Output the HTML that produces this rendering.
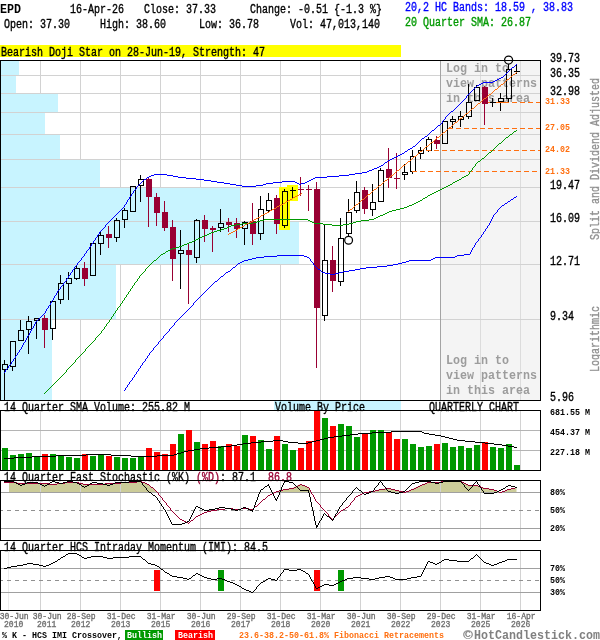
<!DOCTYPE html>
<html><head><meta charset="utf-8"><title>EPD Quarterly Chart</title>
<style>html,body{margin:0;padding:0;background:#fff}body{width:600px;height:640px;overflow:hidden;font-family:"Liberation Mono",monospace}</style></head>
<body>
<svg width="600" height="640" viewBox="0 0 600 640" font-family="'Liberation Mono', monospace" style="display:block;will-change:transform">
<rect width="600" height="640" fill="#fff"/>
<rect x="274" y="401" width="127" height="9" fill="#c8f4ff" shape-rendering="crispEdges"/>
<text x="4" y="411" font-size="12" fill="#000" stroke="#000" stroke-width="0.35" textLength="186" lengthAdjust="spacingAndGlyphs" >14 Quarter SMA Volume: 255.82 M</text>
<text x="275" y="411" font-size="12" fill="#000" stroke="#000" stroke-width="0.35" textLength="90" lengthAdjust="spacingAndGlyphs" >Volume By Price</text>
<text x="429" y="411" font-size="12" fill="#000" stroke="#000" stroke-width="0.35" textLength="90" lengthAdjust="spacingAndGlyphs" >QUARTERLY CHART</text>
<text x="4" y="481" font-size="12" fill="#000" stroke="#000" stroke-width="0.35" textLength="186" lengthAdjust="spacingAndGlyphs" >14 Quarter Fast Stochastic (%K)</text>
<text x="196" y="481" font-size="12" fill="#990033" stroke="#990033" stroke-width="0.35" textLength="24" lengthAdjust="spacingAndGlyphs" >(%D)</text>
<text x="220" y="481" font-size="12" fill="#000" stroke="#000" stroke-width="0.35" textLength="36" lengthAdjust="spacingAndGlyphs" >: 87.1</text>
<text x="268" y="481" font-size="12" fill="#990033" stroke="#990033" stroke-width="0.35" textLength="24" lengthAdjust="spacingAndGlyphs" >86.8</text>
<text x="4" y="551" font-size="12" fill="#000" stroke="#000" stroke-width="0.35" textLength="264" lengthAdjust="spacingAndGlyphs" >14 Quarter HCS Intraday Momentum (IMI): 84.5</text>
<g shape-rendering="crispEdges">
<rect x="0" y="45" width="401" height="12" fill="#ffff00"/>
<rect x="40" y="61" width="1" height="339" fill="#d2d2d2"/>
<rect x="80" y="61" width="1" height="339" fill="#d2d2d2"/>
<rect x="120" y="61" width="1" height="339" fill="#d2d2d2"/>
<rect x="160" y="61" width="1" height="339" fill="#d2d2d2"/>
<rect x="200" y="61" width="1" height="339" fill="#d2d2d2"/>
<rect x="240" y="61" width="1" height="339" fill="#d2d2d2"/>
<rect x="280" y="61" width="1" height="339" fill="#d2d2d2"/>
<rect x="320" y="61" width="1" height="339" fill="#d2d2d2"/>
<rect x="360" y="61" width="1" height="339" fill="#d2d2d2"/>
<rect x="400" y="61" width="1" height="339" fill="#d2d2d2"/>
<rect x="440" y="61" width="1" height="339" fill="#d2d2d2"/>
<rect x="480" y="61" width="1" height="339" fill="#d2d2d2"/>
<rect x="520" y="61" width="1" height="339" fill="#d2d2d2"/>
<rect x="1" y="61" width="18" height="15" fill="#c8f4ff"/>
<rect x="1" y="76" width="15" height="18" fill="#c8f4ff"/>
<rect x="1" y="94" width="57" height="19" fill="#c8f4ff"/>
<rect x="1" y="113" width="44" height="22" fill="#c8f4ff"/>
<rect x="1" y="135" width="59" height="25" fill="#c8f4ff"/>
<rect x="1" y="160" width="99" height="28" fill="#c8f4ff"/>
<rect x="1" y="188" width="239" height="34" fill="#c8f4ff"/>
<rect x="1" y="222" width="298" height="43" fill="#c8f4ff"/>
<rect x="1" y="265" width="115" height="55" fill="#c8f4ff"/>
<rect x="1" y="320" width="51" height="81" fill="#c8f4ff"/>
<rect x="441" y="61" width="99" height="339" fill="#f4f4f4"/>
<rect x="480" y="61" width="1" height="339" fill="#dcdcdc"/>
<rect x="520" y="61" width="1" height="339" fill="#dcdcdc"/>
<rect x="1" y="75" width="539" height="1" fill="#d2d2d2"/>
<rect x="1" y="93" width="539" height="1" fill="#d2d2d2"/>
<rect x="1" y="112" width="539" height="1" fill="#d2d2d2"/>
<rect x="1" y="134" width="539" height="1" fill="#d2d2d2"/>
<rect x="1" y="159" width="539" height="1" fill="#d2d2d2"/>
<rect x="1" y="187" width="539" height="1" fill="#d2d2d2"/>
<rect x="1" y="221" width="539" height="1" fill="#d2d2d2"/>
<rect x="1" y="264" width="539" height="1" fill="#d2d2d2"/>
<rect x="1" y="319" width="539" height="1" fill="#d2d2d2"/>
<rect x="440" y="61" width="1" height="339" fill="#a4a4a4"/>
</g>
<text x="446" y="71.5" font-size="12" fill="#9c9c9c" font-weight="bold" textLength="63" lengthAdjust="spacingAndGlyphs" >Log in to</text>
<text x="446" y="86.5" font-size="12" fill="#9c9c9c" font-weight="bold" textLength="91" lengthAdjust="spacingAndGlyphs" >view patterns</text>
<text x="446" y="101.5" font-size="12" fill="#9c9c9c" font-weight="bold" textLength="84" lengthAdjust="spacingAndGlyphs" >in this area</text>
<text x="446" y="363.5" font-size="12" fill="#9c9c9c" font-weight="bold" textLength="63" lengthAdjust="spacingAndGlyphs" >Log in to</text>
<text x="446" y="378.5" font-size="12" fill="#9c9c9c" font-weight="bold" textLength="91" lengthAdjust="spacingAndGlyphs" >view patterns</text>
<text x="446" y="393.5" font-size="12" fill="#9c9c9c" font-weight="bold" textLength="84" lengthAdjust="spacingAndGlyphs" >in this area</text>
<g shape-rendering="crispEdges">
<rect x="279" y="187" width="11" height="43" fill="#ffff00"/>
<rect x="287" y="185" width="11" height="16" fill="#ffff00"/>
</g>
<g shape-rendering="crispEdges">
<rect x="4" y="360" width="1" height="4" fill="#000"/>
<rect x="4" y="370" width="1" height="30" fill="#000"/>
<rect x="2" y="364" width="6" height="1" fill="#000"/>
<rect x="2" y="369" width="6" height="1" fill="#000"/>
<rect x="2" y="364" width="1" height="6" fill="#000"/>
<rect x="7" y="364" width="1" height="6" fill="#000"/>
<rect x="12" y="367" width="1" height="4" fill="#000"/>
<rect x="10" y="341" width="6" height="1" fill="#000"/>
<rect x="10" y="366" width="6" height="1" fill="#000"/>
<rect x="10" y="341" width="1" height="26" fill="#000"/>
<rect x="15" y="341" width="1" height="26" fill="#000"/>
<rect x="20" y="320" width="1" height="10" fill="#000"/>
<rect x="18" y="330" width="6" height="1" fill="#000"/>
<rect x="18" y="340" width="6" height="1" fill="#000"/>
<rect x="18" y="330" width="1" height="11" fill="#000"/>
<rect x="23" y="330" width="1" height="11" fill="#000"/>
<rect x="28" y="316" width="1" height="5" fill="#000"/>
<rect x="28" y="330" width="1" height="24" fill="#000"/>
<rect x="26" y="321" width="6" height="1" fill="#000"/>
<rect x="26" y="329" width="6" height="1" fill="#000"/>
<rect x="26" y="321" width="1" height="9" fill="#000"/>
<rect x="31" y="321" width="1" height="9" fill="#000"/>
<rect x="36" y="321" width="1" height="18" fill="#000"/>
<rect x="34" y="318" width="6" height="1" fill="#000"/>
<rect x="34" y="320" width="6" height="1" fill="#000"/>
<rect x="34" y="318" width="1" height="3" fill="#000"/>
<rect x="39" y="318" width="1" height="3" fill="#000"/>
<rect x="44" y="315" width="1" height="33" fill="#990033"/>
<rect x="42" y="318" width="6" height="12" fill="#990033"/>
<rect x="52" y="329" width="1" height="11" fill="#000"/>
<rect x="50" y="301" width="6" height="1" fill="#000"/>
<rect x="50" y="328" width="6" height="1" fill="#000"/>
<rect x="50" y="301" width="1" height="28" fill="#000"/>
<rect x="55" y="301" width="1" height="28" fill="#000"/>
<rect x="60" y="275" width="1" height="8" fill="#000"/>
<rect x="60" y="300" width="1" height="4" fill="#000"/>
<rect x="58" y="283" width="6" height="1" fill="#000"/>
<rect x="58" y="299" width="6" height="1" fill="#000"/>
<rect x="58" y="283" width="1" height="17" fill="#000"/>
<rect x="63" y="283" width="1" height="17" fill="#000"/>
<rect x="68" y="272" width="1" height="6" fill="#000"/>
<rect x="68" y="284" width="1" height="16" fill="#000"/>
<rect x="66" y="278" width="6" height="1" fill="#000"/>
<rect x="66" y="283" width="6" height="1" fill="#000"/>
<rect x="66" y="278" width="1" height="6" fill="#000"/>
<rect x="71" y="278" width="1" height="6" fill="#000"/>
<rect x="76" y="265" width="1" height="3" fill="#000"/>
<rect x="76" y="279" width="1" height="1" fill="#000"/>
<rect x="74" y="268" width="6" height="1" fill="#000"/>
<rect x="74" y="278" width="6" height="1" fill="#000"/>
<rect x="74" y="268" width="1" height="11" fill="#000"/>
<rect x="79" y="268" width="1" height="11" fill="#000"/>
<rect x="84" y="262" width="1" height="24" fill="#990033"/>
<rect x="82" y="268" width="6" height="11" fill="#990033"/>
<rect x="90" y="243" width="6" height="1" fill="#000"/>
<rect x="90" y="275" width="6" height="1" fill="#000"/>
<rect x="90" y="243" width="1" height="33" fill="#000"/>
<rect x="95" y="243" width="1" height="33" fill="#000"/>
<rect x="100" y="232" width="1" height="3" fill="#000"/>
<rect x="100" y="244" width="1" height="11" fill="#000"/>
<rect x="98" y="235" width="6" height="1" fill="#000"/>
<rect x="98" y="243" width="6" height="1" fill="#000"/>
<rect x="98" y="235" width="1" height="9" fill="#000"/>
<rect x="103" y="235" width="1" height="9" fill="#000"/>
<rect x="108" y="226" width="1" height="22" fill="#990033"/>
<rect x="106" y="234" width="6" height="4" fill="#990033"/>
<rect x="116" y="218" width="1" height="2" fill="#000"/>
<rect x="116" y="238" width="1" height="4" fill="#000"/>
<rect x="114" y="220" width="6" height="1" fill="#000"/>
<rect x="114" y="237" width="6" height="1" fill="#000"/>
<rect x="114" y="220" width="1" height="18" fill="#000"/>
<rect x="119" y="220" width="1" height="18" fill="#000"/>
<rect x="124" y="208" width="1" height="2" fill="#000"/>
<rect x="124" y="220" width="1" height="8" fill="#000"/>
<rect x="122" y="210" width="6" height="1" fill="#000"/>
<rect x="122" y="219" width="6" height="1" fill="#000"/>
<rect x="122" y="210" width="1" height="10" fill="#000"/>
<rect x="127" y="210" width="1" height="10" fill="#000"/>
<rect x="130" y="186" width="6" height="1" fill="#000"/>
<rect x="130" y="211" width="6" height="1" fill="#000"/>
<rect x="130" y="186" width="1" height="26" fill="#000"/>
<rect x="135" y="186" width="1" height="26" fill="#000"/>
<rect x="140" y="175" width="1" height="4" fill="#000"/>
<rect x="140" y="186" width="1" height="16" fill="#000"/>
<rect x="138" y="179" width="6" height="1" fill="#000"/>
<rect x="138" y="185" width="6" height="1" fill="#000"/>
<rect x="138" y="179" width="1" height="7" fill="#000"/>
<rect x="143" y="179" width="1" height="7" fill="#000"/>
<rect x="148" y="177" width="1" height="50" fill="#990033"/>
<rect x="146" y="179" width="6" height="18" fill="#990033"/>
<rect x="156" y="193" width="1" height="33" fill="#990033"/>
<rect x="154" y="197" width="6" height="16" fill="#990033"/>
<rect x="164" y="201" width="1" height="30" fill="#990033"/>
<rect x="162" y="212" width="6" height="16" fill="#990033"/>
<rect x="172" y="220" width="1" height="61" fill="#990033"/>
<rect x="170" y="227" width="6" height="32" fill="#990033"/>
<rect x="180" y="230" width="1" height="20" fill="#000"/>
<rect x="180" y="254" width="1" height="35" fill="#000"/>
<rect x="178" y="250" width="6" height="1" fill="#000"/>
<rect x="178" y="253" width="6" height="1" fill="#000"/>
<rect x="178" y="250" width="1" height="4" fill="#000"/>
<rect x="183" y="250" width="1" height="4" fill="#000"/>
<rect x="188" y="244" width="1" height="60" fill="#990033"/>
<rect x="186" y="250" width="6" height="5" fill="#990033"/>
<rect x="196" y="219" width="1" height="1" fill="#000"/>
<rect x="196" y="258" width="1" height="5" fill="#000"/>
<rect x="194" y="220" width="6" height="1" fill="#000"/>
<rect x="194" y="257" width="6" height="1" fill="#000"/>
<rect x="194" y="220" width="1" height="38" fill="#000"/>
<rect x="199" y="220" width="1" height="38" fill="#000"/>
<rect x="204" y="215" width="1" height="27" fill="#990033"/>
<rect x="202" y="220" width="6" height="9" fill="#990033"/>
<rect x="212" y="226" width="1" height="26" fill="#990033"/>
<rect x="210" y="228" width="6" height="2" fill="#990033"/>
<rect x="220" y="209" width="1" height="14" fill="#000"/>
<rect x="220" y="228" width="1" height="4" fill="#000"/>
<rect x="218" y="223" width="6" height="1" fill="#000"/>
<rect x="218" y="227" width="6" height="1" fill="#000"/>
<rect x="218" y="223" width="1" height="5" fill="#000"/>
<rect x="223" y="223" width="1" height="5" fill="#000"/>
<rect x="228" y="218" width="1" height="14" fill="#990033"/>
<rect x="226" y="222" width="6" height="3" fill="#990033"/>
<rect x="236" y="218" width="1" height="20" fill="#990033"/>
<rect x="234" y="223" width="6" height="6" fill="#990033"/>
<rect x="244" y="221" width="1" height="1" fill="#000"/>
<rect x="244" y="229" width="1" height="16" fill="#000"/>
<rect x="242" y="222" width="6" height="1" fill="#000"/>
<rect x="242" y="228" width="6" height="1" fill="#000"/>
<rect x="242" y="222" width="1" height="7" fill="#000"/>
<rect x="247" y="222" width="1" height="7" fill="#000"/>
<rect x="252" y="203" width="1" height="42" fill="#990033"/>
<rect x="250" y="221" width="6" height="13" fill="#990033"/>
<rect x="260" y="196" width="1" height="13" fill="#000"/>
<rect x="260" y="234" width="1" height="6" fill="#000"/>
<rect x="258" y="209" width="6" height="1" fill="#000"/>
<rect x="258" y="233" width="6" height="1" fill="#000"/>
<rect x="258" y="209" width="1" height="25" fill="#000"/>
<rect x="263" y="209" width="1" height="25" fill="#000"/>
<rect x="268" y="193" width="1" height="7" fill="#000"/>
<rect x="268" y="211" width="1" height="2" fill="#000"/>
<rect x="266" y="200" width="6" height="1" fill="#000"/>
<rect x="266" y="210" width="6" height="1" fill="#000"/>
<rect x="266" y="200" width="1" height="11" fill="#000"/>
<rect x="271" y="200" width="1" height="11" fill="#000"/>
<rect x="276" y="195" width="1" height="39" fill="#990033"/>
<rect x="274" y="198" width="6" height="26" fill="#990033"/>
<rect x="284" y="189" width="1" height="2" fill="#000"/>
<rect x="284" y="226" width="1" height="2" fill="#000"/>
<rect x="282" y="191" width="6" height="1" fill="#000"/>
<rect x="282" y="225" width="6" height="1" fill="#000"/>
<rect x="282" y="191" width="1" height="35" fill="#000"/>
<rect x="287" y="191" width="1" height="35" fill="#000"/>
<rect x="292" y="187" width="1" height="12" fill="#000"/>
<rect x="290" y="190" width="6" height="1" fill="#000"/>
<rect x="300" y="177" width="1" height="19" fill="#990033"/>
<rect x="298" y="189" width="6" height="1" fill="#990033"/>
<rect x="308" y="185" width="1" height="26" fill="#990033"/>
<rect x="306" y="189" width="6" height="1" fill="#990033"/>
<rect x="316" y="182" width="1" height="186" fill="#990033"/>
<rect x="314" y="189" width="6" height="119" fill="#990033"/>
<rect x="324" y="224" width="1" height="36" fill="#000"/>
<rect x="324" y="316" width="1" height="5" fill="#000"/>
<rect x="322" y="260" width="6" height="1" fill="#000"/>
<rect x="322" y="315" width="6" height="1" fill="#000"/>
<rect x="322" y="260" width="1" height="56" fill="#000"/>
<rect x="327" y="260" width="1" height="56" fill="#000"/>
<rect x="332" y="246" width="1" height="46" fill="#990033"/>
<rect x="330" y="260" width="6" height="21" fill="#990033"/>
<rect x="340" y="218" width="1" height="20" fill="#000"/>
<rect x="340" y="282" width="1" height="4" fill="#000"/>
<rect x="338" y="238" width="6" height="1" fill="#000"/>
<rect x="338" y="281" width="6" height="1" fill="#000"/>
<rect x="338" y="238" width="1" height="44" fill="#000"/>
<rect x="343" y="238" width="1" height="44" fill="#000"/>
<rect x="348" y="199" width="1" height="13" fill="#000"/>
<rect x="348" y="234" width="1" height="2" fill="#000"/>
<rect x="346" y="212" width="6" height="1" fill="#000"/>
<rect x="346" y="233" width="6" height="1" fill="#000"/>
<rect x="346" y="212" width="1" height="22" fill="#000"/>
<rect x="351" y="212" width="1" height="22" fill="#000"/>
<rect x="356" y="181" width="1" height="11" fill="#000"/>
<rect x="356" y="211" width="1" height="2" fill="#000"/>
<rect x="354" y="192" width="6" height="1" fill="#000"/>
<rect x="354" y="210" width="6" height="1" fill="#000"/>
<rect x="354" y="192" width="1" height="19" fill="#000"/>
<rect x="359" y="192" width="1" height="19" fill="#000"/>
<rect x="364" y="187" width="1" height="27" fill="#990033"/>
<rect x="362" y="190" width="6" height="19" fill="#990033"/>
<rect x="372" y="184" width="1" height="18" fill="#000"/>
<rect x="372" y="210" width="1" height="6" fill="#000"/>
<rect x="370" y="202" width="6" height="1" fill="#000"/>
<rect x="370" y="209" width="6" height="1" fill="#000"/>
<rect x="370" y="202" width="1" height="8" fill="#000"/>
<rect x="375" y="202" width="1" height="8" fill="#000"/>
<rect x="380" y="168" width="1" height="2" fill="#000"/>
<rect x="378" y="170" width="6" height="1" fill="#000"/>
<rect x="378" y="201" width="6" height="1" fill="#000"/>
<rect x="378" y="170" width="1" height="32" fill="#000"/>
<rect x="383" y="170" width="1" height="32" fill="#000"/>
<rect x="388" y="148" width="1" height="40" fill="#990033"/>
<rect x="386" y="169" width="6" height="9" fill="#990033"/>
<rect x="396" y="153" width="1" height="36" fill="#990033"/>
<rect x="394" y="178" width="6" height="1" fill="#990033"/>
<rect x="404" y="164" width="1" height="8" fill="#000"/>
<rect x="404" y="175" width="1" height="5" fill="#000"/>
<rect x="402" y="172" width="6" height="1" fill="#000"/>
<rect x="402" y="174" width="6" height="1" fill="#000"/>
<rect x="402" y="172" width="1" height="3" fill="#000"/>
<rect x="407" y="172" width="1" height="3" fill="#000"/>
<rect x="412" y="150" width="1" height="6" fill="#000"/>
<rect x="412" y="172" width="1" height="2" fill="#000"/>
<rect x="410" y="156" width="6" height="1" fill="#000"/>
<rect x="410" y="171" width="6" height="1" fill="#000"/>
<rect x="410" y="156" width="1" height="16" fill="#000"/>
<rect x="415" y="156" width="1" height="16" fill="#000"/>
<rect x="420" y="147" width="1" height="3" fill="#000"/>
<rect x="420" y="154" width="1" height="5" fill="#000"/>
<rect x="418" y="150" width="6" height="1" fill="#000"/>
<rect x="418" y="153" width="6" height="1" fill="#000"/>
<rect x="418" y="150" width="1" height="4" fill="#000"/>
<rect x="423" y="150" width="1" height="4" fill="#000"/>
<rect x="428" y="137" width="1" height="2" fill="#000"/>
<rect x="428" y="151" width="1" height="1" fill="#000"/>
<rect x="426" y="139" width="6" height="1" fill="#000"/>
<rect x="426" y="150" width="6" height="1" fill="#000"/>
<rect x="426" y="139" width="1" height="12" fill="#000"/>
<rect x="431" y="139" width="1" height="12" fill="#000"/>
<rect x="436" y="136" width="1" height="13" fill="#990033"/>
<rect x="434" y="140" width="6" height="4" fill="#990033"/>
<rect x="442" y="121" width="6" height="1" fill="#000"/>
<rect x="442" y="143" width="6" height="1" fill="#000"/>
<rect x="442" y="121" width="1" height="23" fill="#000"/>
<rect x="447" y="121" width="1" height="23" fill="#000"/>
<rect x="452" y="116" width="1" height="3" fill="#000"/>
<rect x="452" y="122" width="1" height="6" fill="#000"/>
<rect x="450" y="119" width="6" height="1" fill="#000"/>
<rect x="450" y="121" width="6" height="1" fill="#000"/>
<rect x="450" y="119" width="1" height="3" fill="#000"/>
<rect x="455" y="119" width="1" height="3" fill="#000"/>
<rect x="460" y="111" width="1" height="5" fill="#000"/>
<rect x="460" y="120" width="1" height="7" fill="#000"/>
<rect x="458" y="116" width="6" height="1" fill="#000"/>
<rect x="458" y="119" width="6" height="1" fill="#000"/>
<rect x="458" y="116" width="1" height="4" fill="#000"/>
<rect x="463" y="116" width="1" height="4" fill="#000"/>
<rect x="468" y="84" width="1" height="18" fill="#000"/>
<rect x="468" y="117" width="1" height="2" fill="#000"/>
<rect x="466" y="102" width="6" height="1" fill="#000"/>
<rect x="466" y="116" width="6" height="1" fill="#000"/>
<rect x="466" y="102" width="1" height="15" fill="#000"/>
<rect x="471" y="102" width="1" height="15" fill="#000"/>
<rect x="476" y="85" width="1" height="2" fill="#000"/>
<rect x="474" y="87" width="6" height="1" fill="#000"/>
<rect x="474" y="100" width="6" height="1" fill="#000"/>
<rect x="474" y="87" width="1" height="14" fill="#000"/>
<rect x="479" y="87" width="1" height="14" fill="#000"/>
<rect x="484" y="86" width="1" height="39" fill="#990033"/>
<rect x="482" y="87" width="6" height="17" fill="#990033"/>
<rect x="492" y="98" width="1" height="9" fill="#000"/>
<rect x="490" y="102" width="6" height="1" fill="#000"/>
<rect x="500" y="93" width="1" height="5" fill="#000"/>
<rect x="500" y="102" width="1" height="9" fill="#000"/>
<rect x="498" y="98" width="6" height="1" fill="#000"/>
<rect x="498" y="101" width="6" height="1" fill="#000"/>
<rect x="498" y="98" width="1" height="4" fill="#000"/>
<rect x="503" y="98" width="1" height="4" fill="#000"/>
<rect x="508" y="64" width="1" height="5" fill="#000"/>
<rect x="508" y="99" width="1" height="3" fill="#000"/>
<rect x="506" y="69" width="6" height="1" fill="#000"/>
<rect x="506" y="98" width="6" height="1" fill="#000"/>
<rect x="506" y="69" width="1" height="30" fill="#000"/>
<rect x="511" y="69" width="1" height="30" fill="#000"/>
<rect x="516" y="64" width="1" height="10" fill="#000"/>
<rect x="514" y="71" width="6" height="1" fill="#000"/>
</g>
<g shape-rendering="crispEdges">
<rect x="488" y="102" width="5" height="1" fill="#ff6f10"/>
<rect x="496" y="102" width="5" height="1" fill="#ff6f10"/>
<rect x="504" y="102" width="5" height="1" fill="#ff6f10"/>
<rect x="512" y="102" width="5" height="1" fill="#ff6f10"/>
<rect x="520" y="102" width="5" height="1" fill="#ff6f10"/>
<rect x="528" y="102" width="5" height="1" fill="#ff6f10"/>
<rect x="536" y="102" width="4" height="1" fill="#ff6f10"/>
<rect x="448" y="128" width="5" height="1" fill="#ff6f10"/>
<rect x="456" y="128" width="5" height="1" fill="#ff6f10"/>
<rect x="464" y="128" width="5" height="1" fill="#ff6f10"/>
<rect x="472" y="128" width="5" height="1" fill="#ff6f10"/>
<rect x="480" y="128" width="5" height="1" fill="#ff6f10"/>
<rect x="488" y="128" width="5" height="1" fill="#ff6f10"/>
<rect x="496" y="128" width="5" height="1" fill="#ff6f10"/>
<rect x="504" y="128" width="5" height="1" fill="#ff6f10"/>
<rect x="512" y="128" width="5" height="1" fill="#ff6f10"/>
<rect x="520" y="128" width="5" height="1" fill="#ff6f10"/>
<rect x="528" y="128" width="5" height="1" fill="#ff6f10"/>
<rect x="536" y="128" width="4" height="1" fill="#ff6f10"/>
<rect x="426" y="150" width="5" height="1" fill="#ff6f10"/>
<rect x="434" y="150" width="5" height="1" fill="#ff6f10"/>
<rect x="442" y="150" width="5" height="1" fill="#ff6f10"/>
<rect x="450" y="150" width="5" height="1" fill="#ff6f10"/>
<rect x="458" y="150" width="5" height="1" fill="#ff6f10"/>
<rect x="466" y="150" width="5" height="1" fill="#ff6f10"/>
<rect x="474" y="150" width="5" height="1" fill="#ff6f10"/>
<rect x="482" y="150" width="5" height="1" fill="#ff6f10"/>
<rect x="490" y="150" width="5" height="1" fill="#ff6f10"/>
<rect x="498" y="150" width="5" height="1" fill="#ff6f10"/>
<rect x="506" y="150" width="5" height="1" fill="#ff6f10"/>
<rect x="514" y="150" width="5" height="1" fill="#ff6f10"/>
<rect x="522" y="150" width="5" height="1" fill="#ff6f10"/>
<rect x="530" y="150" width="5" height="1" fill="#ff6f10"/>
<rect x="538" y="150" width="2" height="1" fill="#ff6f10"/>
<rect x="412" y="171" width="5" height="1" fill="#ff6f10"/>
<rect x="420" y="171" width="5" height="1" fill="#ff6f10"/>
<rect x="428" y="171" width="5" height="1" fill="#ff6f10"/>
<rect x="436" y="171" width="5" height="1" fill="#ff6f10"/>
<rect x="444" y="171" width="5" height="1" fill="#ff6f10"/>
<rect x="452" y="171" width="5" height="1" fill="#ff6f10"/>
<rect x="460" y="171" width="5" height="1" fill="#ff6f10"/>
<rect x="468" y="171" width="5" height="1" fill="#ff6f10"/>
<rect x="476" y="171" width="5" height="1" fill="#ff6f10"/>
<rect x="484" y="171" width="5" height="1" fill="#ff6f10"/>
<rect x="492" y="171" width="5" height="1" fill="#ff6f10"/>
<rect x="500" y="171" width="5" height="1" fill="#ff6f10"/>
<rect x="508" y="171" width="5" height="1" fill="#ff6f10"/>
<rect x="516" y="171" width="5" height="1" fill="#ff6f10"/>
<rect x="524" y="171" width="5" height="1" fill="#ff6f10"/>
<rect x="532" y="171" width="5" height="1" fill="#ff6f10"/>
<rect x="488" y="102" width="21" height="1" fill="#ff6f10"/>
<rect x="490" y="102" width="6" height="1" fill="#000"/>
</g>
<path d="M66.5 370v2M75.5 360v2M85.5 349v2M95.5 338v2M101.5 331v2M104.5 327v2M106.5 324v2M109.5 320v2M111.5 317v2M113.5 314v2M115.5 311v2M117.5 308v2M120.5 304v2M122.5 301v2M124.5 298v2M126.5 295v2M128.5 292v2M130.5 289v2M132.5 286v2M134.5 283v2M137.5 279v2M139.5 276v2M145.5 269v2M469.5 172v2M472.5 168v2M475.5 164v2M516 130.5h1M514 131.5h2M513 132.5h1M512 133.5h1M510 134.5h2M509 135.5h1M508 136.5h1M506 137.5h2M505 138.5h1M504 139.5h1M503 140.5h1M502 141.5h1M501 142.5h1M499 143.5h2M498 144.5h1M497 145.5h1M496 146.5h1M495 147.5h1M494 148.5h1M493 149.5h1M492 150.5h1M491 151.5h1M489 152.5h2M488 153.5h1M487 154.5h1M486 155.5h1M485 156.5h1M484 157.5h1M482 158.5h2M481 159.5h1M480 160.5h1M478 161.5h2M477 162.5h1M476 163.5h1M474 166.5h1M473 167.5h1M471 170.5h1M470 171.5h1M468 174.5h1M466 175.5h2M464 176.5h2M462 177.5h2M461 178.5h1M459 179.5h2M457 180.5h2M455 181.5h2M453 182.5h2M452 183.5h1M450 184.5h2M448 185.5h2M446 186.5h2M444 187.5h2M442 188.5h2M440 189.5h2M438 190.5h2M436 191.5h2M434 192.5h2M432 193.5h2M430 194.5h2M428 195.5h2M427 196.5h1M425 197.5h2M423 198.5h2M422 199.5h1M420 200.5h2M418 201.5h2M416 202.5h2M414 203.5h2M412 204.5h2M409 205.5h3M407 206.5h2M404 207.5h3M400 208.5h4M396 209.5h4M392 210.5h4M389 211.5h3M387 212.5h2M385 213.5h2M383 214.5h2M380 215.5h3M378 216.5h2M376 217.5h2M374 218.5h2M264 219.5h44M369 219.5h5M260 220.5h4M308 220.5h2M361 220.5h8M257 221.5h3M310 221.5h2M356 221.5h5M253 222.5h4M312 222.5h2M353 222.5h3M242 223.5h11M314 223.5h9M349 223.5h4M236 224.5h6M323 224.5h9M343 224.5h6M231 225.5h5M332 225.5h11M229 226.5h2M227 227.5h2M224 228.5h3M221 229.5h3M217 230.5h4M214 231.5h3M211 232.5h3M209 233.5h2M207 234.5h2M204 235.5h3M202 236.5h2M200 237.5h2M198 238.5h2M196 239.5h2M194 240.5h2M192 241.5h2M189 242.5h3M187 243.5h2M184 244.5h3M182 245.5h2M179 246.5h3M176 247.5h3M172 248.5h4M170 249.5h2M168 250.5h2M166 251.5h2M165 252.5h1M163 253.5h2M161 254.5h2M160 255.5h1M159 256.5h1M158 257.5h1M157 258.5h1M156 259.5h1M154 260.5h2M153 261.5h1M152 262.5h1M151 263.5h1M150 264.5h1M149 265.5h1M148 266.5h1M147 267.5h1M146 268.5h1M144 271.5h1M143 272.5h1M142 273.5h1M141 274.5h1M140 275.5h1M138 278.5h1M136 281.5h1M135 282.5h1M133 285.5h1M131 288.5h1M129 291.5h1M127 294.5h1M125 297.5h1M123 300.5h1M121 303.5h1M119 306.5h1M118 307.5h1M116 310.5h1M114 313.5h1M112 316.5h1M110 319.5h1M108 322.5h1M107 323.5h1M105 326.5h1M103 329.5h1M102 330.5h1M100 333.5h1M99 334.5h1M98 335.5h1M97 336.5h1M96 337.5h1M94 340.5h1M93 341.5h1M92 342.5h1M91 343.5h1M90 344.5h1M89 345.5h1M88 346.5h1M87 347.5h1M86 348.5h1M84 351.5h1M83 352.5h1M82 353.5h1M81 354.5h1M80 355.5h1M79 356.5h1M78 357.5h1M77 358.5h1M76 359.5h1M74 362.5h1M73 363.5h1M72 364.5h1M71 365.5h1M70 366.5h1M69 367.5h1M68 368.5h1M67 369.5h1M65 372.5h1M64 373.5h1M63 374.5h1M62 375.5h1M61 376.5h1M60 377.5h1M59 378.5h1M58 379.5h1M57 380.5h1M56 381.5h1M55 382.5h1M54 383.5h1M53 384.5h1M52 385.5h1M51 386.5h1M50 387.5h1M49 388.5h1M48 389.5h1M47 390.5h1M46 391.5h1M45 392.5h1M44 393.5h1" fill="none" stroke="#009900" stroke-width="1" shape-rendering="crispEdges"/>
<path d="M125.5 388v2M127.5 385v2M129.5 382v2M132.5 378v2M134.5 375v2M136.5 372v2M138.5 369v2M140.5 366v2M142.5 363v2M145.5 359v2M147.5 356v2M149.5 353v2M153.5 348v2M158.5 342v2M163.5 336v2M169.5 329v2M174.5 323v2M193.5 303v2M310.5 259v2M313.5 263v2M470.5 252v2M471.5 250v2M472.5 248v2M474.5 245v2M475.5 243v2M478.5 239v2M481.5 235v2M483.5 232v2M485.5 229v2M487.5 226v2M489.5 223v2M490.5 221v2M491.5 219v2M492.5 217v2M493.5 215v2M497.5 210v2M516 196.5h1M514 197.5h2M513 198.5h1M511 199.5h2M510 200.5h1M508 201.5h2M507 202.5h1M505 203.5h2M504 204.5h1M502 205.5h2M501 206.5h1M500 207.5h1M499 208.5h1M498 209.5h1M496 212.5h1M495 213.5h1M494 214.5h1M488 225.5h1M486 228.5h1M484 231.5h1M482 234.5h1M480 237.5h1M479 238.5h1M477 241.5h1M476 242.5h1M473 247.5h1M464 254.5h6M277 255.5h27M457 255.5h7M264 256.5h13M304 256.5h3M455 256.5h2M256 257.5h8M307 257.5h2M435 257.5h20M252 258.5h4M309 258.5h1M433 258.5h2M248 259.5h4M431 259.5h2M244 260.5h4M409 260.5h22M242 261.5h2M311 261.5h1M406 261.5h3M240 262.5h2M312 262.5h1M402 262.5h4M238 263.5h2M398 263.5h4M237 264.5h1M393 264.5h5M236 265.5h1M314 265.5h1M387 265.5h6M235 266.5h1M315 266.5h1M377 266.5h10M233 267.5h2M316 267.5h1M366 267.5h11M232 268.5h1M317 268.5h1M360 268.5h6M231 269.5h1M318 269.5h2M355 269.5h5M230 270.5h1M320 270.5h1M349 270.5h6M228 271.5h2M321 271.5h1M343 271.5h6M226 272.5h2M322 272.5h3M339 272.5h4M225 273.5h1M325 273.5h5M335 273.5h4M224 274.5h1M330 274.5h5M223 275.5h1M221 276.5h2M220 277.5h1M219 278.5h1M218 279.5h1M217 280.5h1M215 281.5h2M214 282.5h1M213 283.5h1M212 284.5h1M211 285.5h1M210 286.5h1M209 287.5h1M208 288.5h1M207 289.5h1M206 290.5h1M205 291.5h1M204 292.5h1M203 293.5h1M202 294.5h1M201 295.5h1M200 296.5h1M199 297.5h1M198 298.5h1M197 299.5h1M196 300.5h1M195 301.5h1M194 302.5h1M192 305.5h1M191 306.5h1M190 307.5h1M189 308.5h1M188 309.5h1M187 310.5h1M186 311.5h1M185 312.5h1M184 313.5h1M183 314.5h1M182 315.5h1M181 316.5h1M180 317.5h1M179 318.5h1M178 319.5h1M177 320.5h1M176 321.5h1M175 322.5h1M173 325.5h1M172 326.5h1M171 327.5h1M170 328.5h1M168 331.5h1M167 332.5h1M166 333.5h1M165 334.5h1M164 335.5h1M162 338.5h1M161 339.5h1M160 340.5h1M159 341.5h1M157 344.5h1M156 345.5h1M155 346.5h1M154 347.5h1M152 350.5h1M151 351.5h1M150 352.5h1M148 355.5h1M146 358.5h1M144 361.5h1M143 362.5h1M141 365.5h1M139 368.5h1M137 371.5h1M135 374.5h1M133 377.5h1M131 380.5h1M130 381.5h1M128 384.5h1M126 387.5h1M124 390.5h1" fill="none" stroke="#0000ff" stroke-width="1" shape-rendering="crispEdges"/>
<path d="M5.5 370v2M8.5 366v2M11.5 362v2M13.5 359v2M15.5 356v2M17.5 353v2M19.5 350v2M21.5 347v2M22.5 345v2M23.5 343v2M25.5 340v2M26.5 338v2M27.5 336v2M29.5 333v2M30.5 331v2M31.5 329v2M33.5 326v2M34.5 324v2M35.5 322v2M45.5 311v2M46.5 309v2M48.5 306v2M50.5 303v2M51.5 301v2M53.5 298v2M54.5 296v2M56.5 293v2M57.5 291v2M60.5 287v2M63.5 283v2M66.5 279v2M68.5 276v2M70.5 273v2M72.5 270v2M74.5 267v2M77.5 263v2M81.5 258v2M84.5 254v2M86.5 251v2M89.5 247v2M91.5 244v2M93.5 241v2M95.5 238v2M97.5 235v2M99.5 232v2M105.5 225v2M124.5 205v2M126.5 202v2M127.5 200v2M129.5 197v2M131.5 194v2M133.5 191v2M136.5 187v2M442.5 121v2M445.5 117v2M466.5 96v2M516 64.5h1M515 65.5h1M514 66.5h1M512 67.5h2M511 68.5h1M510 69.5h1M509 70.5h1M508 71.5h1M507 72.5h1M506 73.5h1M505 74.5h1M504 75.5h1M503 76.5h1M501 77.5h2M499 78.5h2M497 79.5h2M495 80.5h2M493 81.5h2M483 82.5h10M481 83.5h2M479 84.5h2M477 85.5h2M476 86.5h1M475 87.5h1M474 88.5h1M473 89.5h1M472 90.5h1M471 91.5h1M470 92.5h1M469 93.5h1M468 94.5h1M467 95.5h1M465 98.5h1M464 99.5h1M463 100.5h1M462 101.5h1M461 102.5h1M460 103.5h1M459 104.5h1M458 105.5h1M457 106.5h1M456 107.5h1M455 108.5h1M454 109.5h1M453 110.5h1M451 111.5h2M450 112.5h1M449 113.5h1M448 114.5h1M447 115.5h1M446 116.5h1M444 119.5h1M443 120.5h1M441 123.5h1M440 124.5h1M438 125.5h2M437 126.5h1M436 127.5h1M435 128.5h1M434 129.5h1M432 130.5h2M431 131.5h1M430 132.5h1M429 133.5h1M428 134.5h1M427 135.5h1M425 136.5h2M424 137.5h1M422 138.5h2M421 139.5h1M420 140.5h1M419 141.5h1M418 142.5h1M417 143.5h1M416 144.5h1M415 145.5h1M413 146.5h2M412 147.5h1M410 148.5h2M408 149.5h2M407 150.5h1M405 151.5h2M404 152.5h1M402 153.5h2M400 154.5h2M398 155.5h2M396 156.5h2M394 157.5h2M392 158.5h2M390 159.5h2M388 160.5h2M387 161.5h1M385 162.5h2M384 163.5h1M383 164.5h1M381 165.5h2M379 166.5h2M377 167.5h2M374 168.5h3M372 169.5h2M369 170.5h3M367 171.5h2M362 172.5h5M355 173.5h7M154 174.5h13M349 174.5h6M151 175.5h3M167 175.5h6M339 175.5h10M149 176.5h2M173 176.5h5M327 176.5h12M147 177.5h2M178 177.5h8M315 177.5h12M146 178.5h1M186 178.5h10M313 178.5h2M144 179.5h2M196 179.5h8M311 179.5h2M143 180.5h1M204 180.5h7M309 180.5h2M142 181.5h1M211 181.5h6M282 181.5h13M307 181.5h2M141 182.5h1M217 182.5h7M273 182.5h9M295 182.5h2M305 182.5h2M140 183.5h1M224 183.5h6M266 183.5h7M297 183.5h2M301 183.5h4M139 184.5h1M230 184.5h6M263 184.5h3M299 184.5h2M138 185.5h1M236 185.5h6M256 185.5h7M137 186.5h1M242 186.5h14M135 189.5h1M134 190.5h1M132 193.5h1M130 196.5h1M128 199.5h1M125 204.5h1M123 207.5h1M122 208.5h1M121 209.5h1M120 210.5h1M119 211.5h1M118 212.5h1M117 213.5h1M116 214.5h1M115 215.5h1M114 216.5h1M113 217.5h1M112 218.5h1M111 219.5h1M110 220.5h1M109 221.5h1M108 222.5h1M107 223.5h1M106 224.5h1M104 227.5h1M103 228.5h1M102 229.5h1M101 230.5h1M100 231.5h1M98 234.5h1M96 237.5h1M94 240.5h1M92 243.5h1M90 246.5h1M88 249.5h1M87 250.5h1M85 253.5h1M83 256.5h1M82 257.5h1M80 260.5h1M79 261.5h1M78 262.5h1M76 265.5h1M75 266.5h1M73 269.5h1M71 272.5h1M69 275.5h1M67 278.5h1M65 281.5h1M64 282.5h1M62 285.5h1M61 286.5h1M59 289.5h1M58 290.5h1M55 295.5h1M52 300.5h1M49 305.5h1M47 308.5h1M44 313.5h1M43 314.5h1M42 315.5h1M41 316.5h1M40 317.5h1M39 318.5h1M38 319.5h1M37 320.5h1M36 321.5h1M32 328.5h1M28 335.5h1M24 342.5h1M20 349.5h1M18 352.5h1M16 355.5h1M14 358.5h1M12 361.5h1M10 364.5h1M9 365.5h1M7 368.5h1M6 369.5h1M4 372.5h1" fill="none" stroke="#0000ff" stroke-width="1" shape-rendering="crispEdges"/>
<path d="M301 193.5h1M299 194.5h2M297 195.5h2M295 196.5h2M293 197.5h2M292 198.5h1M290 199.5h2M288 200.5h2M286 201.5h2M285 202.5h1M283 203.5h2M281 204.5h2M279 205.5h2M277 206.5h2M276 207.5h1M274 208.5h2M272 209.5h2M270 210.5h2M269 211.5h1M267 212.5h2M265 213.5h2M263 214.5h2M261 215.5h2M260 216.5h1M258 217.5h2M256 218.5h2M254 219.5h2M253 220.5h1M251 221.5h2M249 222.5h2M247 223.5h2M245 224.5h2M244 225.5h1M242 226.5h2M240 227.5h2M238 228.5h2M237 229.5h1M235 230.5h2M233 231.5h2M231 232.5h2M229 233.5h2M228 234.5h1" fill="none" stroke="#ff6f10" stroke-width="1" shape-rendering="crispEdges"/>
<path d="M516 72.5h1M515 73.5h1M513 74.5h2M512 75.5h1M511 76.5h1M510 77.5h1M509 78.5h1M507 79.5h2M506 80.5h1M505 81.5h1M504 82.5h1M503 83.5h1M501 84.5h2M500 85.5h1M499 86.5h1M498 87.5h1M497 88.5h1M495 89.5h2M494 90.5h1M493 91.5h1M492 92.5h1M491 93.5h1M489 94.5h2M488 95.5h1M487 96.5h1M486 97.5h1M484 98.5h2M483 99.5h1M482 100.5h1M481 101.5h1M480 102.5h1M478 103.5h2M477 104.5h1M476 105.5h1M475 106.5h1M474 107.5h1M472 108.5h2M471 109.5h1M470 110.5h1M469 111.5h1M468 112.5h1M466 113.5h2M465 114.5h1M464 115.5h1M463 116.5h1M462 117.5h1M460 118.5h2M459 119.5h1M458 120.5h1M457 121.5h1M455 122.5h2M454 123.5h1M453 124.5h1M452 125.5h1M451 126.5h1M449 127.5h2M448 128.5h1M447 129.5h1M446 130.5h1M445 131.5h1M443 132.5h2M442 133.5h1M441 134.5h1M440 135.5h1M439 136.5h1M437 137.5h2M436 138.5h1M435 139.5h1M434 140.5h1M433 141.5h1M431 142.5h2M430 143.5h1M429 144.5h1M428 145.5h1M426 146.5h2M425 147.5h1M424 148.5h1M423 149.5h1M422 150.5h1M420 151.5h2M419 152.5h1M418 153.5h1M417 154.5h1M416 155.5h1M414 156.5h2M413 157.5h1M412 158.5h1M411 159.5h1M410 160.5h1M408 161.5h2M407 162.5h1M406 163.5h1M405 164.5h1M403 165.5h2M402 166.5h1M401 167.5h1M400 168.5h1M399 169.5h1M397 170.5h2M396 171.5h1M395 172.5h1M394 173.5h1M393 174.5h1M391 175.5h2M390 176.5h1M389 177.5h1M388 178.5h1M387 179.5h1M385 180.5h2M384 181.5h1M383 182.5h1M382 183.5h1M381 184.5h1M379 185.5h2M378 186.5h1M377 187.5h1M376 188.5h1M374 189.5h2M373 190.5h1M372 191.5h1M371 192.5h1M370 193.5h1M368 194.5h2M367 195.5h1M366 196.5h1M365 197.5h1M364 198.5h1M362 199.5h2M361 200.5h1M360 201.5h1M359 202.5h1M358 203.5h1M356 204.5h2M355 205.5h1M354 206.5h1M353 207.5h1M352 208.5h1M350 209.5h2M349 210.5h1M348 211.5h1" fill="none" stroke="#ff6f10" stroke-width="1" shape-rendering="crispEdges"/>
<circle cx="348.6" cy="240.2" r="3.9" fill="none" stroke="#000" stroke-width="1.25"/>
<circle cx="508.6" cy="60" r="4" fill="none" stroke="#000" stroke-width="1.25"/>
<g shape-rendering="crispEdges">
<rect x="0" y="60" width="541" height="1" fill="#000"/>
<rect x="0" y="400" width="541" height="1" fill="#000"/>
<rect x="0" y="60" width="1" height="341" fill="#000"/>
<rect x="540" y="60" width="1" height="341" fill="#000"/>
<rect x="40" y="411" width="1" height="59" fill="#d2d2d2"/>
<rect x="80" y="411" width="1" height="59" fill="#d2d2d2"/>
<rect x="120" y="411" width="1" height="59" fill="#d2d2d2"/>
<rect x="160" y="411" width="1" height="59" fill="#d2d2d2"/>
<rect x="200" y="411" width="1" height="59" fill="#d2d2d2"/>
<rect x="240" y="411" width="1" height="59" fill="#d2d2d2"/>
<rect x="280" y="411" width="1" height="59" fill="#d2d2d2"/>
<rect x="320" y="411" width="1" height="59" fill="#d2d2d2"/>
<rect x="360" y="411" width="1" height="59" fill="#d2d2d2"/>
<rect x="400" y="411" width="1" height="59" fill="#d2d2d2"/>
<rect x="440" y="411" width="1" height="59" fill="#d2d2d2"/>
<rect x="480" y="411" width="1" height="59" fill="#d2d2d2"/>
<rect x="520" y="411" width="1" height="59" fill="#d2d2d2"/>
<rect x="1" y="430" width="539" height="1" fill="#b4b4b4"/>
<rect x="1" y="450" width="539" height="1" fill="#b4b4b4"/>
<rect x="2" y="448" width="6" height="22" fill="#009900"/>
<rect x="10" y="455" width="6" height="15" fill="#009900"/>
<rect x="18" y="454" width="6" height="16" fill="#009900"/>
<rect x="26" y="453" width="6" height="17" fill="#009900"/>
<rect x="34" y="457" width="6" height="13" fill="#009900"/>
<rect x="42" y="454" width="6" height="16" fill="#ff0000"/>
<rect x="50" y="454" width="6" height="16" fill="#009900"/>
<rect x="58" y="456" width="6" height="14" fill="#009900"/>
<rect x="66" y="457" width="6" height="13" fill="#009900"/>
<rect x="74" y="458" width="6" height="12" fill="#009900"/>
<rect x="82" y="454" width="6" height="16" fill="#ff0000"/>
<rect x="90" y="456" width="6" height="14" fill="#009900"/>
<rect x="98" y="454" width="6" height="16" fill="#009900"/>
<rect x="106" y="456" width="6" height="14" fill="#ff0000"/>
<rect x="114" y="457" width="6" height="13" fill="#009900"/>
<rect x="122" y="458" width="6" height="12" fill="#009900"/>
<rect x="130" y="458" width="6" height="12" fill="#009900"/>
<rect x="138" y="457" width="6" height="13" fill="#009900"/>
<rect x="146" y="448" width="6" height="22" fill="#ff0000"/>
<rect x="154" y="452" width="6" height="18" fill="#ff0000"/>
<rect x="162" y="454" width="6" height="16" fill="#ff0000"/>
<rect x="170" y="444" width="6" height="26" fill="#ff0000"/>
<rect x="178" y="434" width="6" height="36" fill="#009900"/>
<rect x="186" y="430" width="6" height="40" fill="#ff0000"/>
<rect x="194" y="442" width="6" height="28" fill="#009900"/>
<rect x="202" y="444" width="6" height="26" fill="#ff0000"/>
<rect x="210" y="441" width="6" height="29" fill="#ff0000"/>
<rect x="218" y="446" width="6" height="24" fill="#009900"/>
<rect x="226" y="444" width="6" height="26" fill="#ff0000"/>
<rect x="234" y="446" width="6" height="24" fill="#ff0000"/>
<rect x="242" y="435" width="6" height="35" fill="#009900"/>
<rect x="250" y="436" width="6" height="34" fill="#ff0000"/>
<rect x="258" y="440" width="6" height="30" fill="#009900"/>
<rect x="266" y="449" width="6" height="21" fill="#009900"/>
<rect x="274" y="436" width="6" height="34" fill="#ff0000"/>
<rect x="282" y="444" width="6" height="26" fill="#009900"/>
<rect x="290" y="450" width="6" height="20" fill="#009900"/>
<rect x="298" y="448" width="6" height="22" fill="#ff0000"/>
<rect x="306" y="441" width="6" height="29" fill="#ff0000"/>
<rect x="314" y="411" width="6" height="59" fill="#ff0000"/>
<rect x="322" y="418" width="6" height="52" fill="#009900"/>
<rect x="330" y="426" width="6" height="44" fill="#ff0000"/>
<rect x="338" y="424" width="6" height="46" fill="#009900"/>
<rect x="346" y="426" width="6" height="44" fill="#009900"/>
<rect x="354" y="437" width="6" height="33" fill="#009900"/>
<rect x="362" y="433" width="6" height="37" fill="#ff0000"/>
<rect x="370" y="430" width="6" height="40" fill="#009900"/>
<rect x="378" y="430" width="6" height="40" fill="#009900"/>
<rect x="386" y="432" width="6" height="38" fill="#ff0000"/>
<rect x="394" y="439" width="6" height="31" fill="#ff0000"/>
<rect x="402" y="439" width="6" height="31" fill="#009900"/>
<rect x="410" y="444" width="6" height="26" fill="#009900"/>
<rect x="418" y="447" width="6" height="23" fill="#009900"/>
<rect x="426" y="446" width="6" height="24" fill="#009900"/>
<rect x="434" y="444" width="6" height="26" fill="#ff0000"/>
<rect x="442" y="443" width="6" height="27" fill="#009900"/>
<rect x="450" y="447" width="6" height="23" fill="#009900"/>
<rect x="458" y="446" width="6" height="24" fill="#009900"/>
<rect x="466" y="448" width="6" height="22" fill="#009900"/>
<rect x="474" y="445" width="6" height="25" fill="#009900"/>
<rect x="482" y="442" width="6" height="28" fill="#ff0000"/>
<rect x="490" y="447" width="6" height="23" fill="#009900"/>
<rect x="498" y="448" width="6" height="22" fill="#009900"/>
<rect x="506" y="444" width="6" height="26" fill="#009900"/>
<rect x="514" y="465" width="6" height="5" fill="#009900"/>
<rect x="0" y="410" width="541" height="1" fill="#000"/>
<rect x="0" y="470" width="541" height="1" fill="#000"/>
<rect x="0" y="410" width="1" height="61" fill="#000"/>
<rect x="540" y="410" width="1" height="61" fill="#000"/>
</g>
<path d="M391 431.5h31M372 432.5h19M422 432.5h2M358 433.5h14M424 433.5h5M350 434.5h8M429 434.5h6M342 435.5h8M435 435.5h6M334 436.5h8M441 436.5h4M328 437.5h6M445 437.5h4M324 438.5h4M449 438.5h4M320 439.5h4M453 439.5h4M273 440.5h10M316 440.5h4M457 440.5h8M261 441.5h12M283 441.5h5M312 441.5h4M465 441.5h10M251 442.5h10M288 442.5h10M308 442.5h4M475 442.5h10M243 443.5h8M298 443.5h10M485 443.5h9M237 444.5h6M494 444.5h8M231 445.5h6M502 445.5h6M221 446.5h10M508 446.5h6M209 447.5h12M514 447.5h3M200 448.5h9M194 449.5h6M188 450.5h6M184 451.5h4M181 452.5h3M177 453.5h4M86 454.5h25M174 454.5h3M56 455.5h30M111 455.5h20M157 455.5h17M32 456.5h24M131 456.5h26M14 457.5h18M4 458.5h10" fill="none" stroke="#000" stroke-width="1" shape-rendering="crispEdges"/>
<clipPath id="c80"><rect x="9" y="481" width="508" height="11"/></clipPath>
<polygon points="4.5,482 12.5,482 20.5,483 28.5,483.5 36.5,483.2 44.5,483.5 52.5,484 60.5,483 68.5,482.8 76.5,482.8 84.5,484 92.5,484.5 100.5,484 108.5,483 116.5,483.3 124.5,482.7 132.5,482 140.5,481.5 148.5,484.7 156.5,491.3 164.5,501 172.5,511.8 180.5,519.5 188.5,523.5 196.5,516.8 204.5,512.2 212.5,510.2 220.5,509.3 228.5,508.8 236.5,509 244.5,508.5 252.5,509.3 260.5,502.7 268.5,495.2 276.5,491.8 284.5,489.3 292.5,488 300.5,484 308.5,487.7 316.5,501.8 324.5,510.2 332.5,519.7 340.5,511.8 348.5,506.8 356.5,496 364.5,492.7 372.5,491.8 380.5,489 388.5,488.5 396.5,490.2 404.5,492.7 412.5,489 420.5,485.2 428.5,482.3 436.5,482.3 444.5,481.8 452.5,481.8 460.5,481.8 468.5,485.2 476.5,485.7 484.5,488 492.5,489.3 500.5,492.3 508.5,489.7 516.5,487.7 516.5,492 4.5,492" fill="#cccc99" clip-path="url(#c80)"/>
<g shape-rendering="crispEdges">
<rect x="40" y="481" width="1" height="59" fill="#d2d2d2"/>
<rect x="80" y="481" width="1" height="59" fill="#d2d2d2"/>
<rect x="120" y="481" width="1" height="59" fill="#d2d2d2"/>
<rect x="160" y="481" width="1" height="59" fill="#d2d2d2"/>
<rect x="200" y="481" width="1" height="59" fill="#d2d2d2"/>
<rect x="240" y="481" width="1" height="59" fill="#d2d2d2"/>
<rect x="280" y="481" width="1" height="59" fill="#d2d2d2"/>
<rect x="320" y="481" width="1" height="59" fill="#d2d2d2"/>
<rect x="360" y="481" width="1" height="59" fill="#d2d2d2"/>
<rect x="400" y="481" width="1" height="59" fill="#d2d2d2"/>
<rect x="440" y="481" width="1" height="59" fill="#d2d2d2"/>
<rect x="480" y="481" width="1" height="59" fill="#d2d2d2"/>
<rect x="520" y="481" width="1" height="59" fill="#d2d2d2"/>
<rect x="1" y="492" width="539" height="1" fill="#a0a0a0"/>
<rect x="1" y="528" width="539" height="1" fill="#a0a0a0"/>
<line x1="-1" y1="510.5" x2="540" y2="510.5" stroke="#909090" stroke-dasharray="4,4"/>
</g>
<path d="M158.5 493v2M162.5 498v2M166.5 503v2M170.5 508v2M309.5 488v2M310.5 490v2M311.5 492v2M313.5 495v2M314.5 497v2M315.5 499v2M320.5 505v2M328.5 514v2M350.5 503v2M354.5 498v2M137 481.5h5M441 481.5h21M4 482.5h13M65 482.5h14M121 482.5h16M142 482.5h3M427 482.5h14M462 482.5h2M17 483.5h32M57 483.5h8M79 483.5h4M105 483.5h16M145 483.5h2M425 483.5h2M464 483.5h2M49 484.5h8M83 484.5h22M147 484.5h2M300 484.5h2M422 484.5h3M466 484.5h2M149 485.5h1M298 485.5h2M302 485.5h3M420 485.5h2M468 485.5h10M150 486.5h1M296 486.5h2M305 486.5h2M418 486.5h2M478 486.5h3M151 487.5h2M294 487.5h2M307 487.5h2M416 487.5h2M481 487.5h2M515 487.5h2M153 488.5h1M289 488.5h5M385 488.5h6M414 488.5h2M483 488.5h6M511 488.5h4M154 489.5h1M283 489.5h6M379 489.5h6M391 489.5h4M411 489.5h3M489 489.5h5M507 489.5h4M155 490.5h1M279 490.5h4M375 490.5h4M395 490.5h4M409 490.5h2M494 490.5h3M505 490.5h2M156 491.5h1M276 491.5h3M369 491.5h6M399 491.5h4M406 491.5h3M497 491.5h2M502 491.5h3M157 492.5h1M274 492.5h2M364 492.5h5M403 492.5h3M499 492.5h3M272 493.5h2M362 493.5h2M270 494.5h2M312 494.5h1M360 494.5h2M159 495.5h1M268 495.5h2M358 495.5h2M160 496.5h1M267 496.5h1M356 496.5h2M161 497.5h1M266 497.5h1M355 497.5h1M265 498.5h1M263 499.5h2M163 500.5h1M262 500.5h1M353 500.5h1M164 501.5h1M261 501.5h1M316 501.5h1M352 501.5h1M165 502.5h1M260 502.5h1M317 502.5h1M351 502.5h1M259 503.5h1M318 503.5h1M258 504.5h1M319 504.5h1M167 505.5h1M257 505.5h1M349 505.5h1M168 506.5h1M255 506.5h2M348 506.5h1M169 507.5h1M254 507.5h1M321 507.5h1M346 507.5h2M225 508.5h8M241 508.5h8M253 508.5h1M322 508.5h1M345 508.5h1M217 509.5h8M233 509.5h8M249 509.5h4M323 509.5h1M343 509.5h2M171 510.5h1M211 510.5h6M324 510.5h1M341 510.5h2M172 511.5h1M207 511.5h4M325 511.5h1M340 511.5h1M173 512.5h1M204 512.5h3M326 512.5h1M339 512.5h1M174 513.5h1M202 513.5h2M327 513.5h1M338 513.5h1M175 514.5h1M200 514.5h2M337 514.5h1M176 515.5h1M198 515.5h2M336 515.5h1M177 516.5h1M196 516.5h2M329 516.5h1M335 516.5h1M178 517.5h1M195 517.5h1M330 517.5h1M334 517.5h1M179 518.5h1M194 518.5h1M331 518.5h1M333 518.5h1M180 519.5h2M193 519.5h1M332 519.5h1M182 520.5h2M191 520.5h2M184 521.5h2M190 521.5h1M186 522.5h2M189 522.5h1M188 523.5h1" fill="none" stroke="#990033" stroke-width="1" shape-rendering="crispEdges"/>
<path d="M142.5 483v2M146.5 488v2M157.5 498v2M159.5 501v2M161.5 504v2M163.5 507v2M165.5 510v2M166.5 512v2M167.5 514v2M168.5 516v2M169.5 518v2M170.5 520v2M171.5 522v2M189.5 519v2M190.5 517v2M191.5 515v2M192.5 513v2M193.5 511v2M194.5 509v2M195.5 507v2M252.5 510v2M253.5 508v2M254.5 505v3M255.5 502v3M256.5 500v2M257.5 497v3M258.5 494v3M259.5 492v2M260.5 490v2M268.5 484v2M269.5 486v2M270.5 488v2M271.5 490v2M272.5 492v2M273.5 494v2M274.5 496v2M275.5 498v2M276.5 499v2M277.5 497v2M278.5 495v2M279.5 492v3M280.5 490v2M281.5 487v3M282.5 485v2M283.5 483v2M284.5 481v2M308.5 490v3M309.5 493v4M310.5 497v5M311.5 502v5M312.5 507v4M313.5 511v5M314.5 516v5M315.5 521v4M316.5 525v3M317.5 525v2M318.5 523v2M319.5 521v2M321.5 518v2M322.5 516v2M323.5 514v2M333.5 518v2M334.5 516v2M335.5 514v2M337.5 511v2M338.5 509v2M339.5 507v2M342.5 503v2M346.5 498v2M352.5 491v2M374.5 488v2M378.5 483v2M382.5 483v2M386.5 488v2M464.5 485v2M472.5 485v2M477.5 482v2M479.5 485v2M481.5 488v2M483.5 491v2M4 481.5h10M52 481.5h3M67 481.5h6M129 481.5h12M285 481.5h4M380 481.5h1M419 481.5h12M443 481.5h18M476 481.5h1M14 482.5h2M27 482.5h11M50 482.5h2M55 482.5h4M63 482.5h4M73 482.5h4M92 482.5h5M115 482.5h14M141 482.5h1M289 482.5h4M379 482.5h1M381 482.5h1M415 482.5h4M431 482.5h4M439 482.5h4M461 482.5h1M475 482.5h1M16 483.5h2M25 483.5h2M38 483.5h2M49 483.5h1M59 483.5h4M77 483.5h2M90 483.5h2M97 483.5h6M113 483.5h2M293 483.5h1M412 483.5h3M435 483.5h4M462 483.5h1M474 483.5h1M18 484.5h2M22 484.5h3M40 484.5h2M47 484.5h2M79 484.5h2M89 484.5h1M103 484.5h4M110 484.5h3M294 484.5h1M411 484.5h1M463 484.5h1M473 484.5h1M478 484.5h1M20 485.5h2M42 485.5h2M45 485.5h2M81 485.5h1M87 485.5h2M107 485.5h3M143 485.5h1M267 485.5h1M295 485.5h1M377 485.5h1M383 485.5h1M410 485.5h1M508 485.5h3M44 486.5h1M82 486.5h2M85 486.5h2M144 486.5h1M265 486.5h2M296 486.5h1M376 486.5h1M384 486.5h1M409 486.5h1M506 486.5h2M511 486.5h4M84 487.5h1M145 487.5h1M264 487.5h1M297 487.5h1M356 487.5h1M375 487.5h1M385 487.5h1M408 487.5h1M465 487.5h1M471 487.5h1M480 487.5h1M505 487.5h1M515 487.5h2M263 488.5h1M298 488.5h1M355 488.5h1M357 488.5h1M407 488.5h1M466 488.5h1M470 488.5h1M503 488.5h2M261 489.5h2M299 489.5h1M354 489.5h1M358 489.5h1M406 489.5h1M467 489.5h1M469 489.5h1M501 489.5h2M147 490.5h1M300 490.5h8M353 490.5h1M359 490.5h2M373 490.5h1M387 490.5h1M405 490.5h1M468 490.5h1M482 490.5h1M499 490.5h2M148 491.5h1M361 491.5h1M371 491.5h2M388 491.5h3M403 491.5h2M497 491.5h2M149 492.5h2M362 492.5h1M369 492.5h2M391 492.5h4M399 492.5h4M494 492.5h3M151 493.5h1M351 493.5h1M363 493.5h1M366 493.5h3M395 493.5h4M484 493.5h10M152 494.5h1M350 494.5h1M364 494.5h2M153 495.5h2M349 495.5h1M155 496.5h1M348 496.5h1M156 497.5h1M347 497.5h1M158 500.5h1M345 500.5h1M344 501.5h1M343 502.5h1M160 503.5h1M341 505.5h1M162 506.5h1M196 506.5h2M340 506.5h1M198 507.5h2M219 507.5h6M243 507.5h3M200 508.5h2M215 508.5h4M225 508.5h6M241 508.5h2M246 508.5h2M164 509.5h1M202 509.5h2M209 509.5h6M231 509.5h4M238 509.5h3M248 509.5h2M204 510.5h5M235 510.5h3M250 510.5h2M324 513.5h1M336 513.5h1M325 514.5h1M326 515.5h1M327 516.5h2M329 517.5h1M330 518.5h1M331 519.5h1M320 520.5h1M332 520.5h1M187 521.5h2M185 522.5h2M182 523.5h3M172 524.5h10" fill="none" stroke="#000" stroke-width="1" shape-rendering="crispEdges"/>
<g shape-rendering="crispEdges">
<rect x="0" y="480" width="541" height="1" fill="#000"/>
<rect x="0" y="540" width="541" height="1" fill="#000"/>
<rect x="0" y="480" width="1" height="61" fill="#000"/>
<rect x="540" y="480" width="1" height="61" fill="#000"/>
<rect x="8" y="551" width="1" height="59" fill="#ececec"/>
<rect x="40" y="551" width="1" height="59" fill="#d2d2d2"/>
<rect x="80" y="551" width="1" height="59" fill="#d2d2d2"/>
<rect x="120" y="551" width="1" height="59" fill="#d2d2d2"/>
<rect x="160" y="551" width="1" height="59" fill="#d2d2d2"/>
<rect x="200" y="551" width="1" height="59" fill="#d2d2d2"/>
<rect x="240" y="551" width="1" height="59" fill="#d2d2d2"/>
<rect x="280" y="551" width="1" height="59" fill="#d2d2d2"/>
<rect x="320" y="551" width="1" height="59" fill="#d2d2d2"/>
<rect x="360" y="551" width="1" height="59" fill="#d2d2d2"/>
<rect x="400" y="551" width="1" height="59" fill="#d2d2d2"/>
<rect x="440" y="551" width="1" height="59" fill="#d2d2d2"/>
<rect x="480" y="551" width="1" height="59" fill="#d2d2d2"/>
<rect x="520" y="551" width="1" height="59" fill="#d2d2d2"/>
<rect x="1" y="568" width="539" height="1" fill="#a0a0a0"/>
<rect x="1" y="592" width="539" height="1" fill="#a0a0a0"/>
<line x1="-1" y1="580.5" x2="540" y2="580.5" stroke="#909090" stroke-dasharray="4,4"/>
<rect x="154" y="570" width="6" height="21" fill="#ff0000"/>
<rect x="218" y="570" width="6" height="21" fill="#009900"/>
<rect x="314" y="570" width="6" height="21" fill="#ff0000"/>
<rect x="338" y="570" width="6" height="21" fill="#009900"/>
<rect x="0" y="550" width="541" height="1" fill="#000"/>
<rect x="0" y="610" width="541" height="1" fill="#000"/>
<rect x="0" y="550" width="1" height="61" fill="#000"/>
<rect x="540" y="550" width="1" height="61" fill="#000"/>
</g>
<path d="M256.5 587v2M277.5 578v2M280.5 574v2M283.5 570v2M309.5 575v2M310.5 577v2M311.5 579v2M313.5 582v2M314.5 584v2M315.5 586v2M421.5 574v2M422.5 572v2M423.5 570v2M424.5 568v2M425.5 566v2M426.5 564v2M427.5 562v2M68 553.5h9M66 554.5h2M77 554.5h2M476 554.5h1M65 555.5h1M79 555.5h2M475 555.5h1M477 555.5h1M63 556.5h2M81 556.5h1M91 556.5h12M129 556.5h12M474 556.5h1M478 556.5h1M61 557.5h2M82 557.5h2M87 557.5h4M103 557.5h4M113 557.5h16M141 557.5h1M473 557.5h1M479 557.5h1M60 558.5h1M84 558.5h3M107 558.5h6M142 558.5h1M471 558.5h2M480 558.5h1M58 559.5h2M143 559.5h2M444 559.5h5M470 559.5h1M481 559.5h1M507 559.5h10M57 560.5h1M145 560.5h1M442 560.5h2M449 560.5h8M469 560.5h1M482 560.5h1M505 560.5h2M55 561.5h2M146 561.5h1M428 561.5h2M441 561.5h1M457 561.5h12M483 561.5h1M502 561.5h3M53 562.5h2M147 562.5h1M430 562.5h3M439 562.5h2M484 562.5h2M499 562.5h3M27 563.5h6M51 563.5h2M148 563.5h3M433 563.5h2M437 563.5h2M486 563.5h3M497 563.5h2M23 564.5h4M33 564.5h6M49 564.5h2M151 564.5h4M435 564.5h2M489 564.5h2M494 564.5h3M17 565.5h6M39 565.5h4M46 565.5h3M155 565.5h2M491 565.5h3M11 566.5h6M43 566.5h3M157 566.5h2M7 567.5h4M159 567.5h1M4 568.5h3M160 568.5h1M161 569.5h2M284 569.5h5M297 569.5h4M163 570.5h1M289 570.5h8M301 570.5h2M164 571.5h1M303 571.5h2M165 572.5h2M282 572.5h1M305 572.5h1M167 573.5h2M196 573.5h2M281 573.5h1M306 573.5h2M169 574.5h1M195 574.5h1M198 574.5h2M308 574.5h1M170 575.5h2M193 575.5h2M200 575.5h2M172 576.5h5M192 576.5h1M202 576.5h2M279 576.5h1M385 576.5h5M417 576.5h4M177 577.5h6M191 577.5h1M204 577.5h3M278 577.5h1M353 577.5h8M379 577.5h6M390 577.5h3M411 577.5h6M183 578.5h4M189 578.5h2M207 578.5h4M217 578.5h5M268 578.5h3M347 578.5h6M361 578.5h8M375 578.5h4M393 578.5h2M407 578.5h4M187 579.5h2M211 579.5h6M222 579.5h3M266 579.5h2M271 579.5h4M345 579.5h2M369 579.5h6M395 579.5h12M225 580.5h2M265 580.5h1M275 580.5h2M342 580.5h3M227 581.5h3M263 581.5h2M312 581.5h1M340 581.5h2M230 582.5h3M261 582.5h2M338 582.5h2M233 583.5h2M260 583.5h1M336 583.5h2M235 584.5h2M259 584.5h1M324 584.5h5M334 584.5h2M237 585.5h2M258 585.5h1M322 585.5h2M329 585.5h5M239 586.5h2M257 586.5h1M320 586.5h2M241 587.5h1M318 587.5h2M242 588.5h2M316 588.5h2M244 589.5h2M255 589.5h1M246 590.5h3M254 590.5h1M249 591.5h2M253 591.5h1M251 592.5h2" fill="none" stroke="#000" stroke-width="1" shape-rendering="crispEdges"/>
<text x="0" y="13" font-size="12" fill="#000" font-weight="bold" textLength="21" lengthAdjust="spacingAndGlyphs" >EPD</text>
<text x="70" y="13" font-size="12" fill="#000" stroke="#000" stroke-width="0.35" textLength="54" lengthAdjust="spacingAndGlyphs" >16-Apr-26</text>
<text x="144" y="13" font-size="12" fill="#000" stroke="#000" stroke-width="0.35" textLength="72" lengthAdjust="spacingAndGlyphs" >Close: 37.33</text>
<text x="250" y="13" font-size="12" fill="#000" stroke="#000" stroke-width="0.35" textLength="132" lengthAdjust="spacingAndGlyphs" >Change: -0.51 {-1.3 %}</text>
<text x="405" y="11" font-size="12" fill="#0000ff" stroke="#0000ff" stroke-width="0.35" textLength="168" lengthAdjust="spacingAndGlyphs" >20,2 HC Bands: 18.59 , 38.83</text>
<text x="4" y="28" font-size="12" fill="#000" stroke="#000" stroke-width="0.35" textLength="66" lengthAdjust="spacingAndGlyphs" >Open: 37.30</text>
<text x="100" y="28" font-size="12" fill="#000" stroke="#000" stroke-width="0.35" textLength="66" lengthAdjust="spacingAndGlyphs" >High: 38.60</text>
<text x="199" y="28" font-size="12" fill="#000" stroke="#000" stroke-width="0.35" textLength="60" lengthAdjust="spacingAndGlyphs" >Low: 36.78</text>
<text x="290" y="28" font-size="12" fill="#000" stroke="#000" stroke-width="0.35" textLength="90" lengthAdjust="spacingAndGlyphs" >Vol: 47,013,140</text>
<text x="405" y="26" font-size="12" fill="#009900" stroke="#009900" stroke-width="0.35" textLength="126" lengthAdjust="spacingAndGlyphs" >20 Quarter SMA: 26.87</text>
<text x="1" y="56" font-size="12" fill="#000" stroke="#000" stroke-width="0.35" textLength="264" lengthAdjust="spacingAndGlyphs" >Bearish Doji Star on 28-Jun-19, Strength: 47</text>
<text x="550" y="61.5" font-size="12" fill="#000" stroke="#000" stroke-width="0.35" textLength="30" lengthAdjust="spacingAndGlyphs" >39.73</text>
<text x="550" y="76.5" font-size="12" fill="#000" stroke="#000" stroke-width="0.35" textLength="30" lengthAdjust="spacingAndGlyphs" >36.35</text>
<text x="550" y="94.5" font-size="12" fill="#000" stroke="#000" stroke-width="0.35" textLength="30" lengthAdjust="spacingAndGlyphs" >32.98</text>
<text x="550" y="188.5" font-size="12" fill="#000" stroke="#000" stroke-width="0.35" textLength="30" lengthAdjust="spacingAndGlyphs" >19.47</text>
<text x="550" y="221.5" font-size="12" fill="#000" stroke="#000" stroke-width="0.35" textLength="30" lengthAdjust="spacingAndGlyphs" >16.09</text>
<text x="550" y="264.5" font-size="12" fill="#000" stroke="#000" stroke-width="0.35" textLength="30" lengthAdjust="spacingAndGlyphs" >12.71</text>
<text x="550" y="319.5" font-size="12" fill="#000" stroke="#000" stroke-width="0.35" textLength="24" lengthAdjust="spacingAndGlyphs" >9.34</text>
<text x="550" y="400.5" font-size="12" fill="#000" stroke="#000" stroke-width="0.35" textLength="24" lengthAdjust="spacingAndGlyphs" >5.96</text>
<text x="545" y="104" font-size="9" fill="#ff6f10" font-weight="bold" textLength="25" lengthAdjust="spacingAndGlyphs" >31.33</text>
<text x="545" y="130" font-size="9" fill="#ff6f10" font-weight="bold" textLength="25" lengthAdjust="spacingAndGlyphs" >27.05</text>
<text x="545" y="152" font-size="9" fill="#ff6f10" font-weight="bold" textLength="25" lengthAdjust="spacingAndGlyphs" >24.02</text>
<text x="545" y="173.5" font-size="9" fill="#ff6f10" font-weight="bold" textLength="25" lengthAdjust="spacingAndGlyphs" >21.33</text>
<text x="550" y="415" font-size="9" fill="#000" font-weight="bold" textLength="40" lengthAdjust="spacingAndGlyphs" >681.55 M</text>
<text x="550" y="435" font-size="9" fill="#000" font-weight="bold" textLength="40" lengthAdjust="spacingAndGlyphs" >454.37 M</text>
<text x="550" y="455" font-size="9" fill="#000" font-weight="bold" textLength="40" lengthAdjust="spacingAndGlyphs" >227.18 M</text>
<text x="550" y="495" font-size="9" fill="#000" font-weight="bold" textLength="15" lengthAdjust="spacingAndGlyphs" >80%</text>
<text x="550" y="513" font-size="9" fill="#000" font-weight="bold" textLength="15" lengthAdjust="spacingAndGlyphs" >50%</text>
<text x="550" y="531" font-size="9" fill="#000" font-weight="bold" textLength="15" lengthAdjust="spacingAndGlyphs" >20%</text>
<text x="550" y="571" font-size="9" fill="#000" font-weight="bold" textLength="15" lengthAdjust="spacingAndGlyphs" >70%</text>
<text x="550" y="583" font-size="9" fill="#000" font-weight="bold" textLength="15" lengthAdjust="spacingAndGlyphs" >50%</text>
<text x="550" y="595" font-size="9" fill="#000" font-weight="bold" textLength="15" lengthAdjust="spacingAndGlyphs" >30%</text>
<g transform="translate(599,240) rotate(-90)">
<text x="0" y="0" font-size="12" fill="#909090" stroke="#909090" stroke-width="0.35" textLength="162" lengthAdjust="spacingAndGlyphs" >Split and Dividend Adjusted</text>
</g>
<g transform="translate(599,372) rotate(-90)">
<text x="0" y="0" font-size="12" fill="#909090" stroke="#909090" stroke-width="0.35" textLength="66" lengthAdjust="spacingAndGlyphs" >Logarithmic</text>
</g>
<text x="-0.3000000000000007" y="619" font-size="8.6" fill="#707070" stroke="#707070" stroke-width="0.35" textLength="28.98" lengthAdjust="spacingAndGlyphs" >30-Jun</text>
<text x="4.0" y="627" font-size="8.6" fill="#707070" stroke="#707070" stroke-width="0.35" textLength="19.32" lengthAdjust="spacingAndGlyphs" >2010</text>
<text x="32.7" y="619" font-size="8.6" fill="#707070" stroke="#707070" stroke-width="0.35" textLength="28.98" lengthAdjust="spacingAndGlyphs" >30-Jun</text>
<text x="37.0" y="627" font-size="8.6" fill="#707070" stroke="#707070" stroke-width="0.35" textLength="19.32" lengthAdjust="spacingAndGlyphs" >2011</text>
<text x="66.7" y="619" font-size="8.6" fill="#707070" stroke="#707070" stroke-width="0.35" textLength="28.98" lengthAdjust="spacingAndGlyphs" >28-Sep</text>
<text x="71.0" y="627" font-size="8.6" fill="#707070" stroke="#707070" stroke-width="0.35" textLength="19.32" lengthAdjust="spacingAndGlyphs" >2012</text>
<text x="106.7" y="619" font-size="8.6" fill="#707070" stroke="#707070" stroke-width="0.35" textLength="28.98" lengthAdjust="spacingAndGlyphs" >31-Dec</text>
<text x="111.0" y="627" font-size="8.6" fill="#707070" stroke="#707070" stroke-width="0.35" textLength="19.32" lengthAdjust="spacingAndGlyphs" >2013</text>
<text x="146.7" y="619" font-size="8.6" fill="#707070" stroke="#707070" stroke-width="0.35" textLength="28.98" lengthAdjust="spacingAndGlyphs" >31-Mar</text>
<text x="151.0" y="627" font-size="8.6" fill="#707070" stroke="#707070" stroke-width="0.35" textLength="19.32" lengthAdjust="spacingAndGlyphs" >2015</text>
<text x="186.7" y="619" font-size="8.6" fill="#707070" stroke="#707070" stroke-width="0.35" textLength="28.98" lengthAdjust="spacingAndGlyphs" >30-Jun</text>
<text x="191.0" y="627" font-size="8.6" fill="#707070" stroke="#707070" stroke-width="0.35" textLength="19.32" lengthAdjust="spacingAndGlyphs" >2016</text>
<text x="226.7" y="619" font-size="8.6" fill="#707070" stroke="#707070" stroke-width="0.35" textLength="28.98" lengthAdjust="spacingAndGlyphs" >29-Sep</text>
<text x="231.0" y="627" font-size="8.6" fill="#707070" stroke="#707070" stroke-width="0.35" textLength="19.32" lengthAdjust="spacingAndGlyphs" >2017</text>
<text x="266.7" y="619" font-size="8.6" fill="#707070" stroke="#707070" stroke-width="0.35" textLength="28.98" lengthAdjust="spacingAndGlyphs" >31-Dec</text>
<text x="271.0" y="627" font-size="8.6" fill="#707070" stroke="#707070" stroke-width="0.35" textLength="19.32" lengthAdjust="spacingAndGlyphs" >2018</text>
<text x="306.7" y="619" font-size="8.6" fill="#707070" stroke="#707070" stroke-width="0.35" textLength="28.98" lengthAdjust="spacingAndGlyphs" >31-Mar</text>
<text x="311.0" y="627" font-size="8.6" fill="#707070" stroke="#707070" stroke-width="0.35" textLength="19.32" lengthAdjust="spacingAndGlyphs" >2020</text>
<text x="346.7" y="619" font-size="8.6" fill="#707070" stroke="#707070" stroke-width="0.35" textLength="28.98" lengthAdjust="spacingAndGlyphs" >30-Jun</text>
<text x="351.0" y="627" font-size="8.6" fill="#707070" stroke="#707070" stroke-width="0.35" textLength="19.32" lengthAdjust="spacingAndGlyphs" >2021</text>
<text x="386.7" y="619" font-size="8.6" fill="#707070" stroke="#707070" stroke-width="0.35" textLength="28.98" lengthAdjust="spacingAndGlyphs" >30-Sep</text>
<text x="391.0" y="627" font-size="8.6" fill="#707070" stroke="#707070" stroke-width="0.35" textLength="19.32" lengthAdjust="spacingAndGlyphs" >2022</text>
<text x="426.7" y="619" font-size="8.6" fill="#707070" stroke="#707070" stroke-width="0.35" textLength="28.98" lengthAdjust="spacingAndGlyphs" >29-Dec</text>
<text x="431.0" y="627" font-size="8.6" fill="#707070" stroke="#707070" stroke-width="0.35" textLength="19.32" lengthAdjust="spacingAndGlyphs" >2023</text>
<text x="466.7" y="619" font-size="8.6" fill="#707070" stroke="#707070" stroke-width="0.35" textLength="28.98" lengthAdjust="spacingAndGlyphs" >31-Mar</text>
<text x="471.0" y="627" font-size="8.6" fill="#707070" stroke="#707070" stroke-width="0.35" textLength="19.32" lengthAdjust="spacingAndGlyphs" >2025</text>
<text x="506.7" y="619" font-size="8.6" fill="#707070" stroke="#707070" stroke-width="0.35" textLength="28.98" lengthAdjust="spacingAndGlyphs" >16-Apr</text>
<text x="511.0" y="627" font-size="8.6" fill="#707070" stroke="#707070" stroke-width="0.35" textLength="19.32" lengthAdjust="spacingAndGlyphs" >2026</text>
<text x="2" y="638" font-size="9" fill="#000" font-weight="bold" textLength="120" lengthAdjust="spacingAndGlyphs" >% K - HCS IMI Crossover,</text>
<g shape-rendering="crispEdges">
<rect x="125" y="630" width="38" height="10" fill="#009900"/>
<rect x="175" y="630" width="40" height="10" fill="#ff0000"/>
</g>
<text x="127" y="638" font-size="9" fill="#fff" font-weight="bold" textLength="35" lengthAdjust="spacingAndGlyphs" >Bullish</text>
<text x="178" y="638" font-size="9" fill="#fff" font-weight="bold" textLength="35" lengthAdjust="spacingAndGlyphs" >Bearish</text>
<text x="239" y="638" font-size="9" fill="#ff6f10" font-weight="bold" textLength="205" lengthAdjust="spacingAndGlyphs" >23.6-38.2-50-61.8% Fibonacci Retracements</text>
<text x="463" y="639" font-size="12" fill="#808080" font-weight="bold" textLength="10" lengthAdjust="spacingAndGlyphs" >©</text>
<text x="474" y="639" font-size="12" fill="#808080" font-weight="bold" textLength="126" lengthAdjust="spacingAndGlyphs" >HotCandlestick.com</text>
</svg>
</body></html>
